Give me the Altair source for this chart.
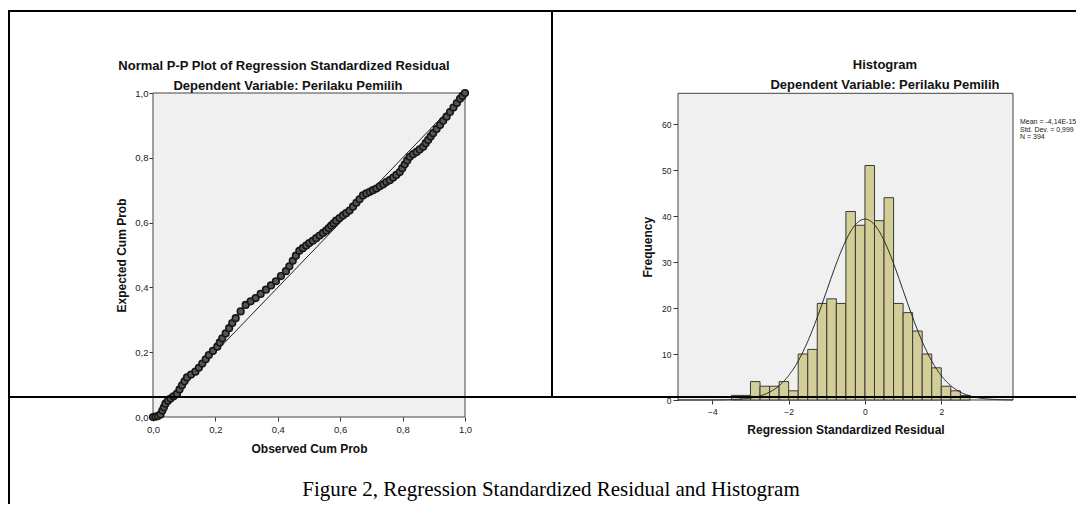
import altair as alt
import numpy as np
import pandas as pd

# ---------------- data ----------------
obs_cum = [0.000, 0.008, 0.016, 0.024, 0.030, 0.035, 0.040, 0.048, 0.056, 0.066,
           0.077, 0.085, 0.093, 0.101, 0.109, 0.122, 0.136, 0.147, 0.158, 0.169,
           0.179, 0.192, 0.206, 0.214, 0.222, 0.233, 0.244, 0.254, 0.265, 0.281,
           0.297, 0.313, 0.329, 0.345, 0.362, 0.378, 0.394, 0.410, 0.426, 0.437,
           0.448, 0.458, 0.469, 0.480, 0.491, 0.501, 0.512, 0.523, 0.534, 0.545,
           0.555, 0.563, 0.571, 0.579, 0.587, 0.598, 0.609, 0.619, 0.630, 0.641,
           0.652, 0.662, 0.673, 0.684, 0.695, 0.705, 0.716, 0.727, 0.738, 0.748,
           0.759, 0.770, 0.780, 0.791, 0.799, 0.807, 0.815, 0.823, 0.834, 0.845,
           0.855, 0.866, 0.874, 0.882, 0.890, 0.898, 0.909, 0.920, 0.930, 0.941,
           0.952, 0.963, 0.974, 0.984, 0.992, 1.000]
exp_cum = [0.000, 0.001, 0.003, 0.008, 0.020, 0.030, 0.041, 0.050, 0.057, 0.064,
           0.072, 0.085, 0.098, 0.110, 0.122, 0.131, 0.140, 0.152, 0.165, 0.178,
           0.191, 0.204, 0.217, 0.230, 0.243, 0.258, 0.274, 0.290, 0.305, 0.326,
           0.346, 0.357, 0.367, 0.380, 0.393, 0.406, 0.419, 0.435, 0.450, 0.465,
           0.482, 0.498, 0.513, 0.521, 0.529, 0.537, 0.544, 0.552, 0.560, 0.568,
           0.575, 0.583, 0.591, 0.598, 0.606, 0.614, 0.622, 0.629, 0.637, 0.649,
           0.661, 0.672, 0.684, 0.690, 0.695, 0.700, 0.705, 0.712, 0.718, 0.725,
           0.731, 0.739, 0.747, 0.756, 0.768, 0.780, 0.792, 0.803, 0.811, 0.818,
           0.826, 0.834, 0.845, 0.855, 0.866, 0.876, 0.889, 0.901, 0.914, 0.927,
           0.941, 0.955, 0.969, 0.982, 0.991, 1.000]

bin_left = [-3.5, -3.25, -3.0, -2.75, -2.5, -2.25, -2.0, -1.75, -1.5, -1.25,
            -1.0, -0.75, -0.5, -0.25, 0.0, 0.25, 0.5, 0.75, 1.0, 1.25,
            1.5, 1.75, 2.0, 2.25, 2.5]
bin_right = [-3.25, -3.0, -2.75, -2.5, -2.25, -2.0, -1.75, -1.5, -1.25, -1.0,
             -0.75, -0.5, -0.25, 0.0, 0.25, 0.5, 0.75, 1.0, 1.25, 1.5,
             1.75, 2.0, 2.25, 2.5, 2.75]
freq = [1, 1, 4, 3, 3, 4, 2, 10, 11, 21,
        22, 21, 41, 38, 51, 39, 44, 21, 19, 15,
        10, 7, 3, 2, 1]

pp_ticks = [0.0, 0.2, 0.4, 0.6, 0.8, 1.0]
hist_xticks = [-4, -2, 0, 2]
hist_yticks = [0, 10, 20, 30, 40, 50, 60]
stat_lines = ["Mean = -4,14E-15", "Std. Dev. = 0,999", "N = 394"]

MEAN, SD, N, BIN_W = -4.14e-15, 0.999, 394, 0.25
HIST_X_DOMAIN = [-4.9, 3.88]
HIST_Y_DOMAIN = [0, 66.7]

# normal curve implied by the stated Mean / Std. Dev. / N
curve_x = np.arange(HIST_X_DOMAIN[0], HIST_X_DOMAIN[1] + 1e-9, 0.02)
curve_y = N * BIN_W / (SD * np.sqrt(2 * np.pi)) * np.exp(-0.5 * ((curve_x - MEAN) / SD) ** 2)

pp_df = pd.DataFrame({"obs": obs_cum, "exp": exp_cum})
hist_df = pd.DataFrame({"lo": bin_left, "hi": bin_right, "freq": freq})
curve_df = pd.DataFrame({"x": curve_x, "y": curve_y})
one = pd.DataFrame({"k": [0]})

# ---------------- layout ----------------
W, H = 1068, 496
FONT = "Liberation Sans"
SERIF = "Liberation Serif"

PP_X0, PP_X1, PP_YB, PP_YT = 145, 457, 409, 85
HI_X0, HI_X1, HI_YB, HI_YT = 670, 1005, 392, 85.3

pp_xs = alt.Scale(domain=[0, 1], range=[PP_X0, PP_X1], nice=False, zero=False)
pp_ys = alt.Scale(domain=[0, 1], range=[PP_YB, PP_YT], nice=False, zero=False)
hi_xs = alt.Scale(domain=HIST_X_DOMAIN, range=[HI_X0, HI_X1], nice=False, zero=False)
hi_ys = alt.Scale(domain=HIST_Y_DOMAIN, range=[HI_YB, HI_YT], nice=False, zero=False)

comma_fmt = "replace(format(datum.value, '.1f'), '.', ',')"

common_axis = dict(grid=False, domain=False, tickColor="#333", labelColor="#222",
                   labelFont=FONT, titleFont=FONT, titleFontWeight="bold",
                   titleFontSize=12, titleColor="#111", labelFlush=False)

ax_pp_x = alt.Axis(orient="bottom", offset=PP_YB - H, values=pp_ticks, labelExpr=comma_fmt,
                   title="Observed Cum Prob", tickSize=4, labelFontSize=9.5, labelPadding=3,
                   titlePadding=10, **common_axis)
ax_pp_y = alt.Axis(orient="left", offset=-PP_X0, values=pp_ticks, labelExpr=comma_fmt,
                   title="Expected Cum Prob", tickSize=4, labelFontSize=9.5, labelPadding=1,
                   titlePadding=6, **common_axis)
ax_hi_x = alt.Axis(orient="bottom", offset=HI_YB - H, values=hist_xticks, format="d",
                   title="Regression Standardized Residual", tickSize=4, labelFontSize=8.5,
                   labelPadding=3, titlePadding=9, **common_axis)
ax_hi_y = alt.Axis(orient="left", offset=-HI_X0, values=hist_yticks, format="d",
                   title="Frequency", tickSize=5, labelFontSize=8.5, labelPadding=2,
                   titlePadding=7, **common_axis)

# ---------------- P-P plot ----------------
pp_bg = alt.Chart(one).mark_rect(fill="#f0f0f0", stroke="#444", strokeWidth=1).encode(
    x=alt.X(datum=0, scale=pp_xs, axis=ax_pp_x), x2=alt.X2(datum=1),
    y=alt.Y(datum=0, scale=pp_ys, axis=ax_pp_y), y2=alt.Y2(datum=1))
pp_diag = alt.Chart(one).mark_rule(color="#222", strokeWidth=1).encode(
    x=alt.X(datum=0, scale=pp_xs, axis=ax_pp_x), x2=alt.X2(datum=1),
    y=alt.Y(datum=0, scale=pp_ys, axis=ax_pp_y), y2=alt.Y2(datum=1))
pp_pts = alt.Chart(pp_df).mark_point(shape="circle", filled=False, fill="#555",
                                     stroke="#151515", strokeWidth=1.6, size=44, opacity=1).encode(
    x=alt.X("obs:Q", scale=pp_xs, axis=ax_pp_x),
    y=alt.Y("exp:Q", scale=pp_ys, axis=ax_pp_y))
pp = alt.layer(pp_bg, pp_diag, pp_pts)

# ---------------- histogram ----------------
hi_bg = alt.Chart(one).mark_rect(fill="#f0f0f0", stroke="#444", strokeWidth=1).encode(
    x=alt.X(datum=HIST_X_DOMAIN[0], scale=hi_xs, axis=ax_hi_x), x2=alt.X2(datum=HIST_X_DOMAIN[1]),
    y=alt.Y(datum=HIST_Y_DOMAIN[0], scale=hi_ys, axis=ax_hi_y), y2=alt.Y2(datum=HIST_Y_DOMAIN[1]))
hi_bars = alt.Chart(hist_df).mark_rect(fill="#d3ce97", stroke="#3a3a3a", strokeWidth=1).encode(
    x=alt.X("lo:Q", scale=hi_xs, axis=ax_hi_x), x2="hi:Q",
    y=alt.Y("freq:Q", scale=hi_ys, axis=ax_hi_y), y2=alt.Y2(datum=0))
hi_curve = alt.Chart(curve_df).mark_line(color="#222", strokeWidth=1).encode(
    x=alt.X("x:Q", scale=hi_xs, axis=ax_hi_x),
    y=alt.Y("y:Q", scale=hi_ys, axis=ax_hi_y))
hist = alt.layer(hi_bg, hi_bars, hi_curve)

# ---------------- titles, caption, table borders ----------------
def txt(t, x, y, size, weight="normal", font=FONT, align="center", baseline="middle", color="#111", **kw):
    return alt.Chart(one).mark_text(text=t, font=font, fontSize=size, fontWeight=weight,
                                    align=align, baseline=baseline, color=color, **kw).encode(
        x=alt.value(x), y=alt.value(y))

def rule(x, y, x2=None, y2=None):
    enc = dict(x=alt.value(x), y=alt.value(y))
    if x2 is not None:
        enc["x2"] = alt.value(x2)
    if y2 is not None:
        enc["y2"] = alt.value(y2)
    return alt.Chart(one).mark_rule(color="#000", strokeWidth=2).encode(**enc)

deco = alt.layer(
    txt("Normal P-P Plot of Regression Standardized Residual", 276, 58, 13, "bold"),
    txt("Dependent Variable: Perilaku Pemilih", 280, 78, 13, "bold"),
    txt("Histogram", 877, 57, 13, "bold"),
    txt("Dependent Variable: Perilaku Pemilih", 877, 77, 13, "bold"),
    txt(stat_lines, 1012, 110, 7, align="left", baseline="top", color="#222", lineHeight=7.5),
    txt("Figure 2, Regression Standardized Residual and Histogram", 543, 488, 21,
        font=SERIF, baseline="alphabetic", color="#000"),
    rule(0, 3, x2=W),
    rule(1, 2, y2=H),
    rule(544, 3, y2=389),
    rule(0, 389, x2=W),
)

chart = alt.layer(pp, hist, deco).resolve_scale(
    x="independent", y="independent"
).properties(
    width=W, height=H, padding=0, background="white",
    autosize=alt.AutoSizeParams(type="none"),
).configure_view(stroke=None)

chart.save("out.html", embed_options={"renderer": "svg", "actions": False})
